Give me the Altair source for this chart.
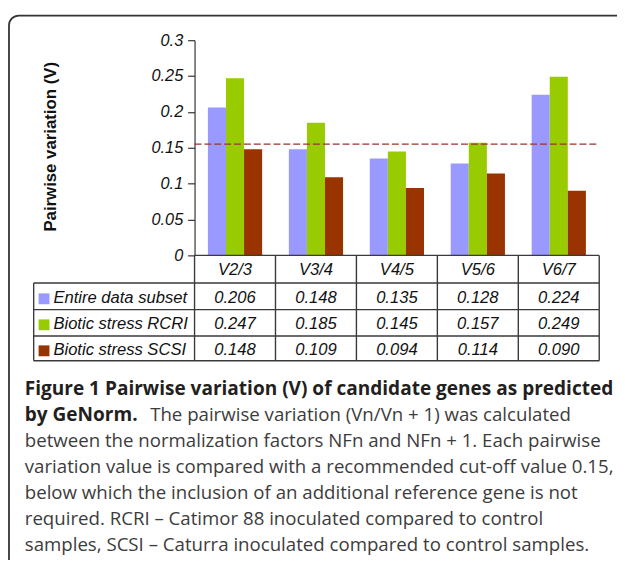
import altair as alt
import pandas as pd

# ---------------- data ----------------
categories = ["V2/3", "V3/4", "V4/5", "V5/6", "V6/7"]
series = ["Entire data subset", "Biotic stress RCRI", "Biotic stress SCSI"]
entire = [0.206, 0.148, 0.135, 0.128, 0.224]
rcri = [0.247, 0.185, 0.145, 0.157, 0.249]
scsi = [0.148, 0.109, 0.094, 0.114, 0.090]
colors = ["#9999FF", "#99CC00", "#993300"]
cutoff = [0.155]
y_ticks = [0, 0.05, 0.1, 0.15, 0.2, 0.25, 0.3]
y_title = "Pairwise variation (V)"
caption_title_1 = "Figure 1 Pairwise variation (V) of candidate genes as predicted"
caption_title_2 = "by GeNorm."
caption_rest_2 = "The pairwise variation (Vn/Vn + 1) was calculated"
caption_lines = [
    "between the normalization factors NFn and NFn + 1. Each pairwise",
    "variation value is compared with a recommended cut-off value 0.15,",
    "below which the inclusion of an additional reference gene is not",
    "required. RCRI \u2013 Catimor 88 inoculated compared to control",
    "samples, SCSI \u2013 Caturra inoculated compared to control samples.",
]

rows = []
for s, vals in zip(series, [entire, rcri, scsi]):
    for c, v in zip(categories, vals):
        rows.append({"category": c, "series": s, "value": v})
df = pd.DataFrame(rows)
df_cat = pd.DataFrame({"category": categories})
df_ser = pd.DataFrame({"series": series})
one = pd.DataFrame({"k": [0]})

# ---------------- layout (pixels relative to plot area) ----------------
W, H = 410, 218
TXT = "Liberation Sans"
CAP = "Open Sans"
line_col = "#3a3a3a"
FS = 16.8
CAP_FS = 18.9
CAP_BFS = 19.3

x_enc = alt.X("category:N", sort=categories,
              scale=alt.Scale(domain=categories, paddingInner=0.33, paddingOuter=0.165),
              axis=None)
y_lin = alt.Scale(domain=[0, 0.3], nice=False, zero=True)

bars = alt.Chart(df).mark_bar().encode(
    x=x_enc,
    xOffset=alt.XOffset("series:N", sort=series,
                        scale=alt.Scale(domain=series, paddingInner=0, paddingOuter=0)),
    y=alt.Y("value:Q", scale=y_lin,
            axis=alt.Axis(values=y_ticks, format=".2~f", title=None, grid=False,
                          tickSize=7, labelPadding=5, labelFont=TXT, labelFontStyle="italic",
                          labelFontSize=16.5, labelColor="#111", domainColor="#333",
                          tickColor="#333", domainWidth=1.2, tickWidth=1.2)),
    color=alt.Color("series:N", sort=series,
                    scale=alt.Scale(domain=series, range=colors), legend=None),
)

rule = alt.Chart(pd.DataFrame({"cutoff": cutoff})).mark_rule(
    color="#993333", strokeDash=[7, 3], strokeWidth=1.3
).encode(
    y=alt.Y("cutoff:Q", scale=y_lin, axis=None),
    x=alt.value(0), x2=alt.value(W),
)

row_text_scale = alt.Scale(type="point", domain=series, range=[266.4, 318.9], padding=0)
row_sq_scale = alt.Scale(type="point", domain=series, range=[262, 314.7], padding=0)

vals = alt.Chart(df).mark_text(
    font=TXT, fontStyle="italic", fontSize=FS, baseline="alphabetic", align="center", color="#111"
).encode(
    x=x_enc,
    y=alt.Y("series:N", sort=series, scale=row_text_scale, axis=None),
    text=alt.Text("value:Q", format=".3f"),
)

header = alt.Chart(df_cat).mark_text(
    font=TXT, fontStyle="italic", fontSize=FS, baseline="alphabetic", align="center", color="#111"
).encode(
    x=x_enc, y=alt.value(238), text="category:N",
)

squares = alt.Chart(df_ser).mark_square(size=121, opacity=1).encode(
    x=alt.value(-152.5),
    y=alt.Y("series:N", sort=series, scale=row_sq_scale, axis=None),
    color=alt.Color("series:N", sort=series,
                    scale=alt.Scale(domain=series, range=colors), legend=None),
)

leg_text = alt.Chart(df_ser).mark_text(
    font=TXT, fontStyle="italic", fontSize=FS, baseline="alphabetic", align="left", color="#111"
).encode(
    x=alt.value(-143),
    y=alt.Y("series:N", sort=series, scale=row_text_scale, axis=None),
    text="series:N",
)

ytitle = alt.Chart(one).mark_text(
    font=TXT, fontWeight="bold", fontSize=17, angle=270, align="center",
    baseline="middle", color="#111", text=y_title
).encode(x=alt.value(-145), y=alt.value(108))

# table grid lines
grid = []
for yy, x0 in [(H, 0), (246, -163), (273, -163), (299.7, -163), (324.7, -163)]:
    grid.append(alt.Chart(one).mark_rule(color=line_col, strokeWidth=1.4).encode(
        x=alt.value(x0), x2=alt.value(W), y=alt.value(yy)))
for xx, y0 in [(-163, 246), (0, H), (82, H), (164, H), (246, H), (328, H), (W, H)]:
    grid.append(alt.Chart(one).mark_rule(color=line_col, strokeWidth=1.4).encode(
        x=alt.value(xx), y=alt.value(y0), y2=alt.value(324.7)))

border = alt.Chart(one).mark_rect(
    fillOpacity=0, stroke="#333", strokeWidth=1.8, cornerRadius=10
).encode(x=alt.value(-188), x2=alt.value(445), y=alt.value(-25), y2=alt.value(580))

# caption
cap = []
cap.append(alt.Chart(one).mark_text(
    font=CAP, fontWeight="bold", fontSize=CAP_BFS, align="left", baseline="alphabetic",
    color="#231f20", text=caption_title_1).encode(x=alt.value(-172), y=alt.value(359)))
cap.append(alt.Chart(one).mark_text(
    font=CAP, fontWeight="bold", fontSize=CAP_BFS, align="left", baseline="alphabetic",
    color="#231f20", text=caption_title_2).encode(x=alt.value(-172), y=alt.value(385.5)))
cap.append(alt.Chart(one).mark_text(
    font=CAP, fontSize=CAP_FS, align="left", baseline="alphabetic",
    color="#3c3c3c", text=caption_rest_2).encode(x=alt.value(-45), y=alt.value(385.5)))
for i, t in enumerate(caption_lines):
    cap.append(alt.Chart(one).mark_text(
        font=CAP, fontSize=CAP_FS, align="left", baseline="alphabetic",
        color="#3c3c3c", text=t).encode(x=alt.value(-172), y=alt.value(412 + 26.5 * i)))

chart = alt.layer(
    border, bars, rule, *grid, vals, header, squares, leg_text, ytitle, *cap
).resolve_scale(y="independent").properties(
    width=W, height=H,
    padding={"left": 189, "top": 29, "right": 18, "bottom": 305},
    autosize=alt.AutoSizeParams(type="none"),
    background="white",
).configure_view(strokeWidth=0)

chart.save("out.html", embed_options={"renderer": "svg", "actions": False})
